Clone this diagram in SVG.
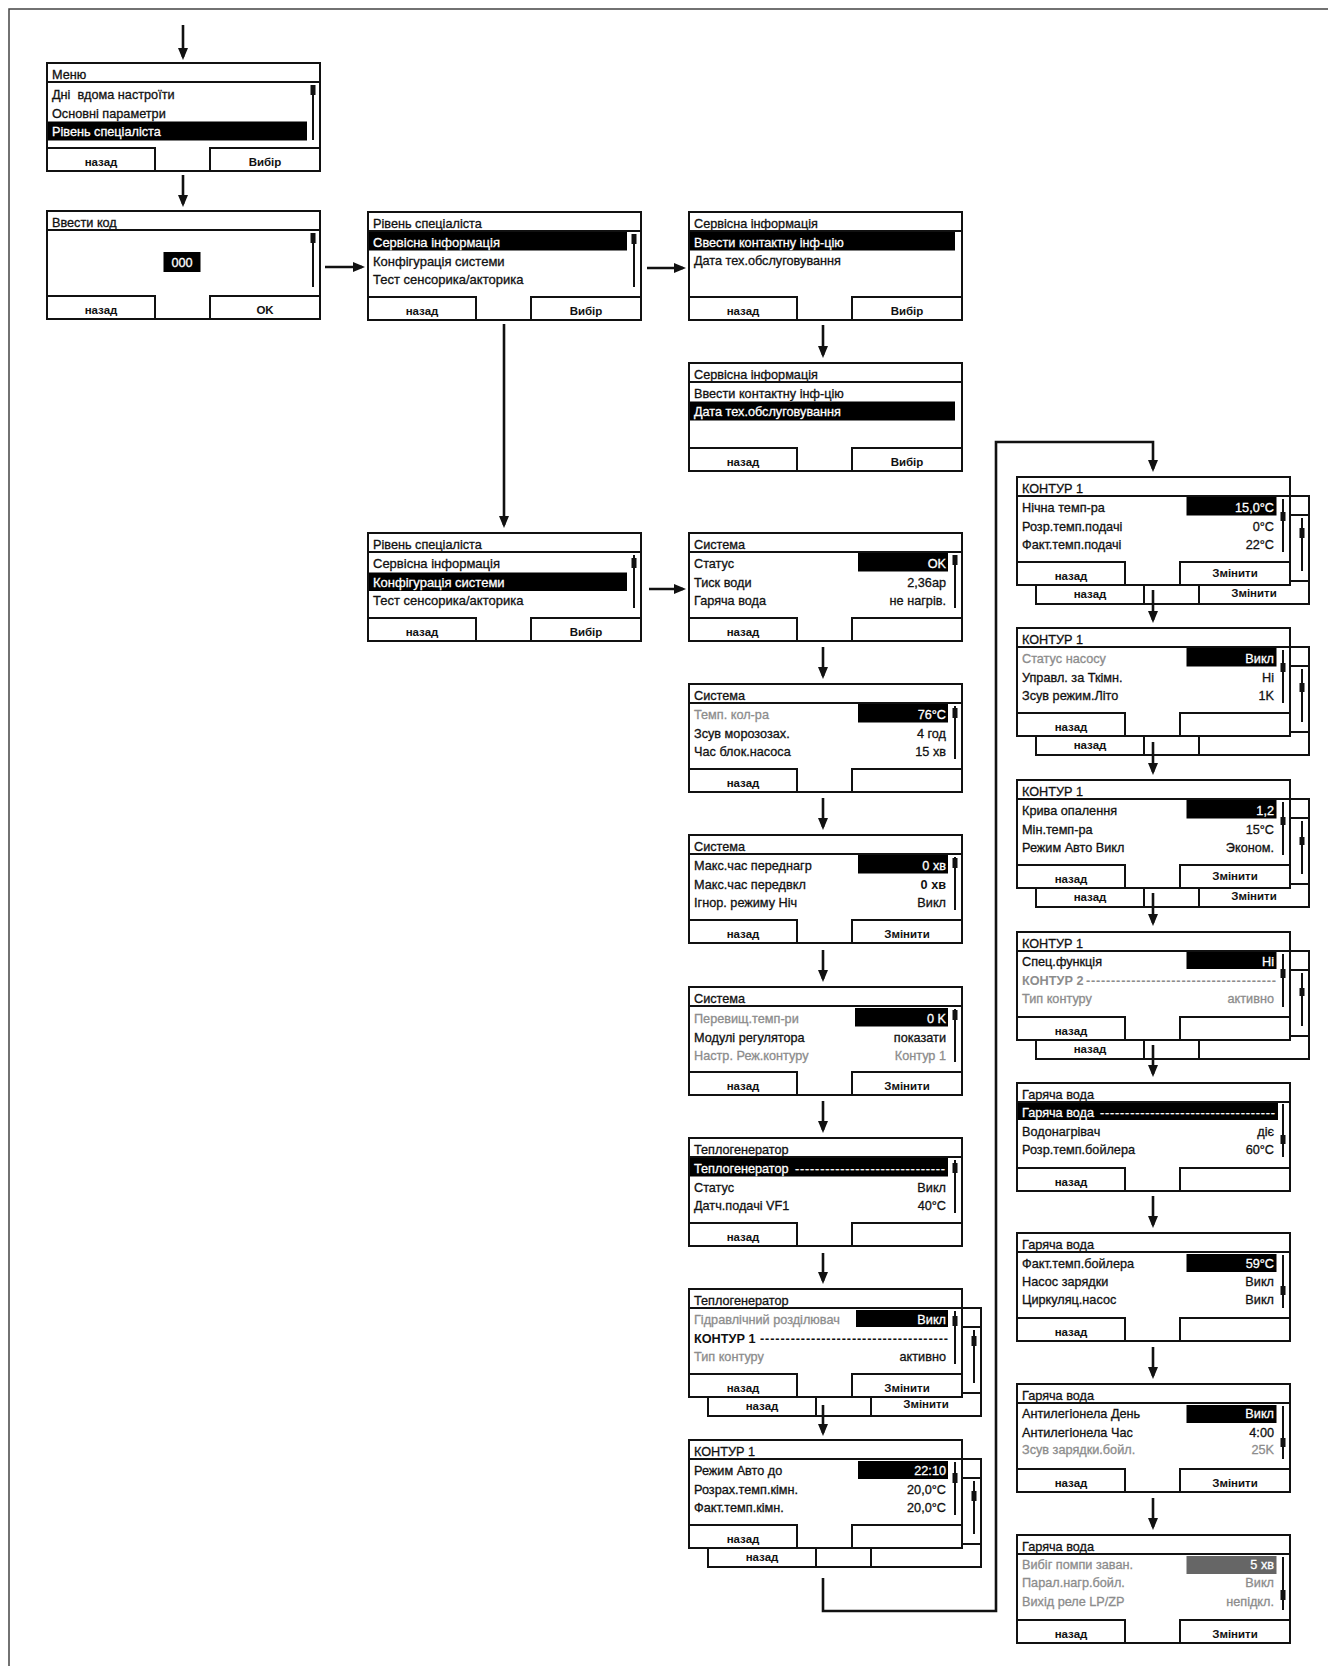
<svg xmlns="http://www.w3.org/2000/svg" width="1328" height="1666" viewBox="0 0 1328 1666">
<defs>
<style>
.bx{fill:#fff;stroke:#111;stroke-width:2}
.ln{fill:none;stroke:#111;stroke-width:2}
.sb{stroke:#111;stroke-width:2}
.th{fill:#111}
.hl{fill:#000}
.hg{fill:#666}
text{font-family:"Liberation Sans",Arial,sans-serif;font-size:12.7px;fill:#111;stroke:#111;stroke-width:0.3}
.g{fill:#8c8c8c;stroke:#8c8c8c}
.w{fill:#fff;stroke:#fff}
.b{font-weight:bold;stroke-width:0}
.e{text-anchor:end}
.m{text-anchor:middle}
.bt{font-size:11.5px;font-weight:bold;text-anchor:middle;stroke-width:0}
.lg{font-size:13px}
.conn{fill:none;stroke:#111;stroke-width:2.6}
.frame{fill:none;stroke:#444;stroke-width:1.5}
</style>
<marker id="ah" markerUnits="userSpaceOnUse" markerWidth="12" markerHeight="12" viewBox="0 0 12 12" refX="9" refY="6" orient="auto"><path d="M0,1L12,6L0,11z" fill="#111"/></marker>
</defs>
<rect width="1328" height="1666" fill="#fff"/>
<path class="frame" d="M9,1666V9H1328"/>

<g id="connectors" class="conn">
<path d="M183,25V57" marker-end="url(#ah)"/>
<path d="M183,175V204" marker-end="url(#ah)"/>
<path d="M325,267H362" marker-end="url(#ah)"/>
<path d="M647,268H683" marker-end="url(#ah)"/>
<path d="M649,589H683" marker-end="url(#ah)"/>
<path d="M504,324V525" marker-end="url(#ah)"/>
<path d="M823,325V355" marker-end="url(#ah)"/>
<path d="M823,647V676" marker-end="url(#ah)"/>
<path d="M823,798V827" marker-end="url(#ah)"/>
<path d="M823,950V979" marker-end="url(#ah)"/>
<path d="M823,1101V1130" marker-end="url(#ah)"/>
<path d="M823,1253V1281" marker-end="url(#ah)"/>
<path d="M823,1578V1611H996V442H1153V469" marker-end="url(#ah)"/>
<path d="M1153,1196V1225" marker-end="url(#ah)"/>
<path d="M1153,1347V1376" marker-end="url(#ah)"/>
<path d="M1153,1498V1527" marker-end="url(#ah)"/>
</g>

<g id="menu" transform="translate(47,63)">
<rect class="bx" width="273" height="108"/>
<line class="ln" x1="0" y1="19" x2="273" y2="19"/>
<rect class="hl" x="1" y="58.5" width="259" height="19"/>
<text x="5" y="15.5">Меню</text>
<text x="5" y="36">Дні&#160; вдома настроїти</text>
<text x="5" y="54.5">Основні параметри</text>
<text class="w" x="5" y="72.5">Рівень спеціаліста</text>
<line class="sb" x1="266" y1="22" x2="266" y2="77"/><rect class="th" x="263.5" y="22" width="5" height="10"/>
<path class="ln" d="M0,85H108V108M163,108V85H273"/>
<text class="bt" x="54" y="103">назад</text><text class="bt" x="218" y="103">Вибір</text>
</g>

<g id="code" transform="translate(47,211)">
<rect class="bx" width="273" height="108"/>
<line class="ln" x1="0" y1="19" x2="273" y2="19"/>
<text x="5" y="15.5">Ввести код</text>
<rect class="hl" x="116.5" y="41" width="37" height="20"/>
<text class="w m" x="135" y="56">000</text>
<line class="sb" x1="266" y1="22" x2="266" y2="76"/><rect class="th" x="263.5" y="22" width="5" height="10"/>
<path class="ln" d="M0,85H108V108M163,108V85H273"/>
<text class="bt" x="54" y="103">назад</text><text class="bt" x="218" y="103">OK</text>
</g>

<g id="lvl1" transform="translate(368,212)">
<rect class="bx" width="273" height="108"/>
<line class="ln" x1="0" y1="19" x2="273" y2="19"/>
<rect class="hl" x="1" y="20" width="258" height="18.5"/>
<text x="5" y="15.5">Рівень спеціаліста</text>
<text class="w lg" x="5" y="35">Сервісна інформація</text>
<text class="lg" x="5" y="53.5">Конфігурація системи</text>
<text class="lg" x="5" y="71.5">Тест сенсорика/акторика</text>
<line class="sb" x1="266" y1="22" x2="266" y2="75"/><rect class="th" x="263.5" y="22" width="5" height="10"/>
<path class="ln" d="M0,85H108V108M163,108V85H273"/>
<text class="bt" x="54" y="103">назад</text><text class="bt" x="218" y="103">Вибір</text>
</g>

<g id="lvl2" transform="translate(368,533)">
<rect class="bx" width="273" height="108"/>
<line class="ln" x1="0" y1="19" x2="273" y2="19"/>
<rect class="hl" x="1" y="39.5" width="258" height="18.5"/>
<text x="5" y="15.5">Рівень спеціаліста</text>
<text class="lg" x="5" y="35">Сервісна інформація</text>
<text class="w lg" x="5" y="54">Конфігурація системи</text>
<text class="lg" x="5" y="72">Тест сенсорика/акторика</text>
<line class="sb" x1="266" y1="22" x2="266" y2="75"/><rect class="th" x="263.5" y="25" width="5" height="10"/>
<path class="ln" d="M0,85H108V108M163,108V85H273"/>
<text class="bt" x="54" y="103">назад</text><text class="bt" x="218" y="103">Вибір</text>
</g>

<g id="svc1" transform="translate(689,212)">
<rect class="bx" width="273" height="108"/>
<line class="ln" x1="0" y1="19" x2="273" y2="19"/>
<rect class="hl" x="1" y="20" width="265" height="18.5"/>
<text x="5" y="15.5">Сервісна інформація</text>
<text class="w" x="5" y="35">Ввести контактну інф-цію</text>
<text x="5" y="53">Дата тех.обслуговування</text>
<path class="ln" d="M0,85H108V108M163,108V85H273"/>
<text class="bt" x="54" y="103">назад</text><text class="bt" x="218" y="103">Вибір</text>
</g>

<g id="svc2" transform="translate(689,363)">
<rect class="bx" width="273" height="108"/>
<line class="ln" x1="0" y1="19" x2="273" y2="19"/>
<rect class="hl" x="1" y="38.5" width="265" height="19"/>
<text x="5" y="15.5">Сервісна інформація</text>
<text x="5" y="35">Ввести контактну інф-цію</text>
<text class="w" x="5" y="53">Дата тех.обслуговування</text>
<path class="ln" d="M0,85H108V108M163,108V85H273"/>
<text class="bt" x="54" y="103">назад</text><text class="bt" x="218" y="103">Вибір</text>
</g>

<g id="sys1" transform="translate(689,533)">
<rect class="bx" width="273" height="108"/>
<line class="ln" x1="0" y1="19" x2="273" y2="19"/>
<rect class="hl" x="169" y="20" width="90" height="18.5"/>
<text x="5" y="15.5">Система</text>
<text x="5" y="35">Статус</text><text class="w e" x="257" y="35">OK</text>
<text x="5" y="53.5">Тиск води</text><text class="e" x="257" y="53.5">2,36ар</text>
<text x="5" y="71.5">Гаряча вода</text><text class="e" x="257" y="71.5">не нагрів.</text>
<line class="sb" x1="266" y1="22" x2="266" y2="75"/><rect class="th" x="263.5" y="22" width="5" height="10"/>
<path class="ln" d="M0,85H108V108M163,108V85H273"/>
<text class="bt" x="54" y="103">назад</text>
</g>

<g id="sys2" transform="translate(689,684)">
<rect class="bx" width="273" height="108"/>
<line class="ln" x1="0" y1="19" x2="273" y2="19"/>
<rect class="hl" x="169" y="20" width="90" height="18.5"/>
<text x="5" y="15.5">Система</text>
<text class="g" x="5" y="35">Темп. кол-ра</text><text class="w e" x="257" y="35">76°C</text>
<text x="5" y="53.5">Зсув морозозах.</text><text class="e" x="257" y="53.5">4 год</text>
<text x="5" y="71.5">Час блок.насоса</text><text class="e" x="257" y="71.5">15 хв</text>
<line class="sb" x1="266" y1="22" x2="266" y2="75"/><rect class="th" x="263.5" y="24" width="5" height="10"/>
<path class="ln" d="M0,85H108V108M163,108V85H273"/>
<text class="bt" x="54" y="103">назад</text>
</g>

<g id="sys3" transform="translate(689,835)">
<rect class="bx" width="273" height="108"/>
<line class="ln" x1="0" y1="19" x2="273" y2="19"/>
<rect class="hl" x="169" y="20" width="90" height="18.5"/>
<text x="5" y="15.5">Система</text>
<text x="5" y="35">Макс.час переднагр</text><text class="w e" x="257" y="35">0 хв</text>
<text x="5" y="53.5">Макс.час передвкл</text><text class="b e" x="257" y="53.5">0 хв</text>
<text x="5" y="71.5">Ігнор. режиму Ніч</text><text class="e" x="257" y="71.5">Викл</text>
<line class="sb" x1="266" y1="22" x2="266" y2="75"/><rect class="th" x="263.5" y="23" width="5" height="10"/>
<path class="ln" d="M0,85H108V108M163,108V85H273"/>
<text class="bt" x="54" y="103">назад</text><text class="bt" x="218" y="103">Змінити</text>
</g>

<g id="sys4" transform="translate(689,987)">
<rect class="bx" width="273" height="108"/>
<line class="ln" x1="0" y1="19" x2="273" y2="19"/>
<rect class="hl" x="166" y="21" width="93" height="18.5"/>
<text x="5" y="15.5">Система</text>
<text class="g" x="5" y="36">Перевищ.темп-ри</text><text class="w e" x="257" y="36">0 K</text>
<text x="5" y="54.5">Модулі регулятора</text><text class="e" x="257" y="54.5">показати</text>
<text class="g" x="5" y="72.5">Настр. Реж.контуру</text><text class="g e" x="257" y="72.5">Контур 1</text>
<line class="sb" x1="266" y1="22" x2="266" y2="75"/><rect class="th" x="263.5" y="23" width="5" height="10"/>
<path class="ln" d="M0,85H108V108M163,108V85H273"/>
<text class="bt" x="54" y="103">назад</text><text class="bt" x="218" y="103">Змінити</text>
</g>

<g id="heat1" transform="translate(689,1138)">
<rect class="bx" width="273" height="108"/>
<line class="ln" x1="0" y1="19" x2="273" y2="19"/>
<rect class="hl" x="1" y="20" width="258" height="18.5"/>
<text x="5" y="15.5">Теплогенератор</text>
<text class="w" x="5" y="35">Теплогенератор</text>
<text class="w" x="106" y="35" textLength="150" lengthAdjust="spacing">------------------------------</text>
<text x="5" y="53.5">Статус</text><text class="e" x="257" y="53.5">Викл</text>
<text x="5" y="71.5">Датч.подачі VF1</text><text class="e" x="257" y="71.5">40°C</text>
<line class="sb" x1="266" y1="22" x2="266" y2="75"/><rect class="th" x="263.5" y="25" width="5" height="10"/>
<path class="ln" d="M0,85H108V108M163,108V85H273"/>
<text class="bt" x="54" y="103">назад</text>
</g>

<g id="heat2" transform="translate(689,1289)">
<g transform="translate(19,19)">
<rect class="bx" width="273" height="108"/>
<line class="ln" x1="0" y1="19" x2="273" y2="19"/>
<line class="sb" x1="266" y1="22" x2="266" y2="75"/><rect class="th" x="263.5" y="28" width="5" height="10"/>
<path class="ln" d="M0,85H108V108M163,108V85H273"/>
<text class="bt" x="54" y="102">назад</text><text class="bt" x="218" y="100">Змінити</text>
</g>
<rect class="bx" width="273" height="108"/>
<line class="ln" x1="0" y1="19" x2="273" y2="19"/>
<rect class="hl" x="167" y="21" width="92" height="17"/>
<text x="5" y="15.5">Теплогенератор</text>
<text class="g" x="5" y="35">Гідравлічний розділювач</text><text class="w e" x="257" y="35">Викл</text>
<text class="b" x="5" y="53.5">КОНТУР 1</text>
<text class="b" x="71" y="53.5" textLength="188" lengthAdjust="spacing">-------------------------------------</text>
<text class="g" x="5" y="71.5">Тип контуру</text><text class="e" x="257" y="71.5">активно</text>
<line class="sb" x1="266" y1="22" x2="266" y2="75"/><rect class="th" x="263.5" y="27" width="5" height="10"/>
<path class="ln" d="M0,85H108V108M163,108V85H273"/>
<text class="bt" x="54" y="103">назад</text><text class="bt" x="218" y="103">Змінити</text>
</g>

<g id="hcmid" transform="translate(689,1440)">
<g transform="translate(19,19)">
<rect class="bx" width="273" height="108"/>
<line class="ln" x1="0" y1="19" x2="273" y2="19"/>
<line class="sb" x1="266" y1="22" x2="266" y2="75"/><rect class="th" x="263.5" y="32" width="5" height="10"/>
<path class="ln" d="M0,85H108V108M163,108V85H273"/>
<text class="bt" x="54" y="102">назад</text>
</g>
<rect class="bx" width="273" height="108"/>
<line class="ln" x1="0" y1="19" x2="273" y2="19"/>
<rect class="hl" x="169" y="21" width="90" height="18"/>
<text x="5" y="15.5">КОНТУР 1</text>
<text x="5" y="35">Режим Авто до</text><text class="w e" x="257" y="35">22:10</text>
<text x="5" y="54">Розрах.темп.кімн.</text><text class="e" x="257" y="54">20,0°C</text>
<text x="5" y="72">Факт.темп.кімн.</text><text class="e" x="257" y="72">20,0°C</text>
<line class="sb" x1="266" y1="22" x2="266" y2="75"/><rect class="th" x="263.5" y="33" width="5" height="10"/>
<path class="ln" d="M0,85H108V108M163,108V85H273"/>
<text class="bt" x="54" y="103">назад</text>
</g>

<g id="hc1" transform="translate(1017,477)">
<g transform="translate(19,19)">
<rect class="bx" width="273" height="108"/>
<line class="ln" x1="0" y1="19" x2="273" y2="19"/>
<line class="sb" x1="266" y1="22" x2="266" y2="75"/><rect class="th" x="263.5" y="32" width="5" height="10"/>
<path class="ln" d="M0,85H108V108M163,108V85H273"/>
<text class="bt" x="54" y="102">назад</text><text class="bt" x="218" y="101">Змінити</text>
</g>
<rect class="bx" width="273" height="108"/>
<line class="ln" x1="0" y1="19" x2="273" y2="19"/>
<rect class="hl" x="169.5" y="20" width="90" height="18.5"/>
<text x="5" y="15.5">КОНТУР 1</text>
<text x="5" y="35">Нічна темп-ра</text><text class="w e" x="257" y="35">15,0°C</text>
<text x="5" y="53.5">Розр.темп.подачі</text><text class="e" x="257" y="53.5">0°C</text>
<text x="5" y="71.5">Факт.темп.подачі</text><text class="e" x="257" y="71.5">22°C</text>
<line class="sb" x1="266" y1="22" x2="266" y2="75"/><rect class="th" x="263.5" y="35" width="5" height="9"/>
<path class="ln" d="M0,85H108V108M163,108V85H273"/>
<text class="bt" x="54" y="103">назад</text><text class="bt" x="218" y="100">Змінити</text>
</g>

<g id="hc2" transform="translate(1017,628)">
<g transform="translate(19,19)">
<rect class="bx" width="273" height="108"/>
<line class="ln" x1="0" y1="19" x2="273" y2="19"/>
<line class="sb" x1="266" y1="22" x2="266" y2="75"/><rect class="th" x="263.5" y="36" width="5" height="9"/>
<path class="ln" d="M0,85H108V108M163,108V85H273"/>
<text class="bt" x="54" y="102">назад</text>
</g>
<rect class="bx" width="273" height="108"/>
<line class="ln" x1="0" y1="19" x2="273" y2="19"/>
<rect class="hl" x="169.5" y="20" width="90" height="18.5"/>
<text x="5" y="15.5">КОНТУР 1</text>
<text class="g" x="5" y="35">Статус насосу</text><text class="w e" x="257" y="35">Викл</text>
<text x="5" y="53.5">Управл. за Ткімн.</text><text class="e" x="257" y="53.5">Ні</text>
<text x="5" y="71.5">Зсув режим.Літо</text><text class="e" x="257" y="71.5">1K</text>
<line class="sb" x1="266" y1="22" x2="266" y2="75"/><rect class="th" x="263.5" y="35" width="5" height="9"/>
<path class="ln" d="M0,85H108V108M163,108V85H273"/>
<text class="bt" x="54" y="103">назад</text>
</g>

<g id="hc3" transform="translate(1017,780)">
<g transform="translate(19,19)">
<rect class="bx" width="273" height="108"/>
<line class="ln" x1="0" y1="19" x2="273" y2="19"/>
<line class="sb" x1="266" y1="22" x2="266" y2="75"/><rect class="th" x="263.5" y="38" width="5" height="8"/>
<path class="ln" d="M0,85H108V108M163,108V85H273"/>
<text class="bt" x="54" y="102">назад</text><text class="bt" x="218" y="101">Змінити</text>
</g>
<rect class="bx" width="273" height="108"/>
<line class="ln" x1="0" y1="19" x2="273" y2="19"/>
<rect class="hl" x="169.5" y="20" width="90" height="18.5"/>
<text x="5" y="15.5">КОНТУР 1</text>
<text x="5" y="35">Крива опалення</text><text class="w e" x="257" y="35">1,2</text>
<text x="5" y="53.5">Мін.темп-ра</text><text class="e" x="257" y="53.5">15°C</text>
<text x="5" y="71.5">Режим Авто Викл</text><text class="e" x="257" y="71.5">Эконом.</text>
<line class="sb" x1="266" y1="22" x2="266" y2="75"/><rect class="th" x="263.5" y="37" width="5" height="8"/>
<path class="ln" d="M0,85H108V108M163,108V85H273"/>
<text class="bt" x="54" y="103">назад</text><text class="bt" x="218" y="100">Змінити</text>
</g>

<g id="hc4" transform="translate(1017,932)">
<g transform="translate(19,19)">
<rect class="bx" width="273" height="108"/>
<line class="ln" x1="0" y1="19" x2="273" y2="19"/>
<line class="sb" x1="266" y1="22" x2="266" y2="75"/><rect class="th" x="263.5" y="37" width="5" height="8"/>
<path class="ln" d="M0,85H108V108M163,108V85H273"/>
<text class="bt" x="54" y="102">назад</text>
</g>
<rect class="bx" width="273" height="108"/>
<line class="ln" x1="0" y1="19" x2="273" y2="19"/>
<rect class="hl" x="169.5" y="20" width="90" height="17"/>
<text x="5" y="15.5">КОНТУР 1</text>
<text x="5" y="34">Спец.функція</text><text class="w e" x="257" y="34">Ні</text>
<text class="g b" x="5" y="52.5">КОНТУР 2</text>
<text class="g b" x="69" y="52.5" textLength="190" lengthAdjust="spacing">--------------------------------------</text>
<text class="g" x="5" y="71">Тип контуру</text><text class="g e" x="257" y="71">активно</text>
<line class="sb" x1="266" y1="22" x2="266" y2="75"/><rect class="th" x="263.5" y="37" width="5" height="9"/>
<path class="ln" d="M0,85H108V108M163,108V85H273"/>
<text class="bt" x="54" y="103">назад</text>
</g>

<g id="dhw1" transform="translate(1017,1083)">
<rect class="bx" width="273" height="108"/>
<line class="ln" x1="0" y1="19" x2="273" y2="19"/>
<rect class="hl" x="1" y="20" width="260" height="17"/>
<text x="5" y="15.5">Гаряча вода</text>
<text class="w" x="5" y="34">Гаряча вода</text>
<text class="w" x="83" y="34" textLength="175" lengthAdjust="spacing">-----------------------------------</text>
<text x="5" y="52.5">Водонагрівач</text><text class="e" x="257" y="52.5">діє</text>
<text x="5" y="71">Розр.темп.бойлера</text><text class="e" x="257" y="71">60°C</text>
<line class="sb" x1="266" y1="21" x2="266" y2="74"/><rect class="th" x="263.5" y="52" width="5" height="9"/>
<path class="ln" d="M0,85H108V108M163,108V85H273"/>
<text class="bt" x="54" y="103">назад</text>
</g>

<g id="dhw2" transform="translate(1017,1233)">
<rect class="bx" width="273" height="108"/>
<line class="ln" x1="0" y1="19" x2="273" y2="19"/>
<rect class="hl" x="169.5" y="21" width="90" height="18"/>
<text x="5" y="15.5">Гаряча вода</text>
<text x="5" y="34.5">Факт.темп.бойлера</text><text class="w e" x="257" y="34.5">59°C</text>
<text x="5" y="53">Насос зарядки</text><text class="e" x="257" y="53">Викл</text>
<text x="5" y="71">Циркуляц.насос</text><text class="e" x="257" y="71">Викл</text>
<line class="sb" x1="266" y1="22" x2="266" y2="75"/><rect class="th" x="263.5" y="53" width="5" height="9"/>
<path class="ln" d="M0,85H108V108M163,108V85H273"/>
<text class="bt" x="54" y="103">назад</text>
</g>

<g id="dhw3" transform="translate(1017,1384)">
<rect class="bx" width="273" height="108"/>
<line class="ln" x1="0" y1="19" x2="273" y2="19"/>
<rect class="hl" x="169.5" y="21" width="90" height="18"/>
<text x="5" y="15.5">Гаряча вода</text>
<text x="5" y="34">Антилегіонела День</text><text class="w e" x="257" y="34">Викл</text>
<text x="5" y="52.5">Антилегіонела Час</text><text class="e" x="257" y="52.5">4:00</text>
<text class="g" x="5" y="70">Зсув зарядки.бойл.</text><text class="g e" x="257" y="70">25K</text>
<line class="sb" x1="266" y1="22" x2="266" y2="75"/><rect class="th" x="263.5" y="54" width="5" height="9"/>
<path class="ln" d="M0,85H108V108M163,108V85H273"/>
<text class="bt" x="54" y="103">назад</text><text class="bt" x="218" y="103">Змінити</text>
</g>

<g id="dhw4" transform="translate(1017,1535)">
<rect class="bx" width="273" height="108"/>
<line class="ln" x1="0" y1="19" x2="273" y2="19"/>
<rect class="hg" x="169.5" y="21" width="90" height="18"/>
<text x="5" y="15.5">Гаряча вода</text>
<text class="g" x="5" y="34">Вибіг помпи заван.</text><text class="w e" x="257" y="34">5 хв</text>
<text class="g" x="5" y="52">Парал.нагр.бойл.</text><text class="g e" x="257" y="52">Викл</text>
<text class="g" x="5" y="70.5">Вихід реле LP/ZP</text><text class="g e" x="257" y="70.5">непідкл.</text>
<line class="sb" x1="266" y1="22" x2="266" y2="75"/><rect class="th" x="263.5" y="55" width="5" height="10"/>
<path class="ln" d="M0,85H108V108M163,108V85H273"/>
<text class="bt" x="54" y="103">назад</text><text class="bt" x="218" y="103">Змінити</text>
</g>

<g id="connectors-over" class="conn">
<path d="M823,1405V1433" marker-end="url(#ah)"/>
<path d="M1153,590V620" marker-end="url(#ah)"/>
<path d="M1153,742V772" marker-end="url(#ah)"/>
<path d="M1153,893V923" marker-end="url(#ah)"/>
<path d="M1153,1045V1074" marker-end="url(#ah)"/>
</g>
</svg>
